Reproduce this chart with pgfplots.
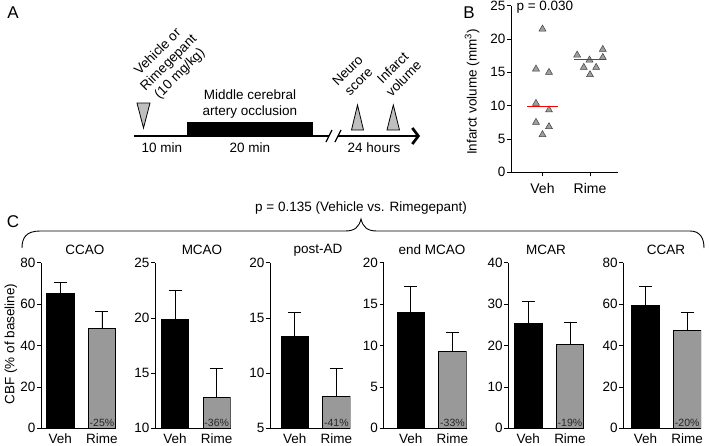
\documentclass[border=0pt]{standalone}
\usepackage{fontspec}
\setmainfont{Liberation Sans}
\usepackage{pgfplots}
\pgfplotsset{compat=1.18}
\usetikzlibrary{arrows.meta}

\definecolor{rime}{gray}{0.6}
\definecolor{tri}{gray}{0.75}
\definecolor{dots}{gray}{0.62}

\tikzset{pct/.style={anchor=south, font=\fontsize{10.5}{12}\selectfont, inner sep=1.5pt, text=black!85}}

\pgfplotsset{
  /pgf/number format/assume math mode=true,
  cbf/.style={
    scale only axis, height=165.6pt, anchor=south west,
    axis lines=left, axis line style={-, line width=0.7pt},
    ybar, bar width=27.5pt,
    xmax=1.336, xtick={0,1}, xticklabels={Veh,Rime},
    xtick style={draw=none},
    ytick style={line width=0.7pt, black},
    tick align=outside, major tick length=4pt,
    yticklabel style={font=\fontsize{13.5}{15}\selectfont, inner sep=1.5pt},
    xticklabel style={font=\fontsize{13.5}{14}\selectfont, inner sep=0pt, yshift=-1pt},
  },
  eb/.style={error bars/.cd, y dir=plus, y explicit,
    error bar style={line width=0.8pt, black},
    error mark options={rotate=90, mark size=6.5pt, line width=0.8pt, black}},
  veh/.style={fill=black, draw=black, line width=0.7pt, bar shift=0pt, eb},
  rim/.style={fill=rime, draw=black, line width=0.7pt, bar shift=0pt, eb},
  bbox/.style={at={(511pt,-172.3pt)}, anchor=south west, scale only axis,
    width=107pt, height=166.6pt, xmin=0.337, xmax=2.59, ymin=0, ymax=25},
}

\begin{document}
\begin{tikzpicture}
\useasboundingbox (0,0) rectangle (709pt,-445pt);

% ---- A: timeline
\begin{axis}[at={(0pt,0pt)}, anchor=north west, scale only axis,
  width=430pt, height=160pt, xmin=0, xmax=430, ymin=0, ymax=160,
  y dir=reverse, hide axis, clip=false]
\node[font=\fontsize{17}{19}\selectfont] at (13,13) {A};
\draw[line width=2.7pt] (134,136) -- (329,136);
\draw[line width=2.7pt, -{Straight Barb[length=6pt,width=16pt]}] (338,136) -- (420,136);
\fill (187,121.5) rectangle (313,137.3);
\draw[line width=1.2pt] (326,142) -- (332,130);
\draw[line width=1.2pt] (335,142) -- (341,130);
\filldraw[fill=tri, draw=black, line width=0.8pt] (137,103) -- (150,103) -- (143.5,128) -- cycle;
\filldraw[fill=tri, draw=black, line width=0.8pt] (351.5,130) -- (363.5,130) -- (357.5,105) -- cycle;
\filldraw[fill=tri, draw=black, line width=0.8pt] (387,130) -- (399.5,130) -- (393.3,105) -- cycle;
\begin{scope}[font=\fontsize{13.5}{15.5}\selectfont]
\node at (162,148) {10 min};
\node at (250,148) {20 min};
\node at (374,148) {24 hours};
\node[align=center] at (250,104) {Middle cerebral\\artery occlusion};
\node[align=center, rotate=45] at (169,63) {Vehicle or\\Rimegepant\\(10 mg/kg)};
\node[align=center, rotate=45] at (353,76) {Neuro\\score};
\node[align=center, rotate=45] at (398,73) {Infarct\\volume};
\end{scope}
\end{axis}

% ---- B: infarct volume
\begin{axis}[bbox,
  axis lines=left, axis line style={-, line width=0.7pt},
  ytick={0,5,...,25}, xtick={1,2}, xticklabels={Veh,Rime},
  tick align=outside, major tick length=4pt,
  tick style={line width=0.7pt, black},
  yticklabel style={font=\fontsize{13.5}{15}\selectfont, inner sep=1.5pt},
  xticklabel style={font=\fontsize{14}{15}\selectfont, inner sep=1pt, yshift=-6pt},
  clip=false]
\addplot[only marks, mark=triangle*, mark size=4pt,
  mark options={fill=dots, draw=black!75, line width=0.5pt}] coordinates {
  (1.0,21.5) (0.863,15.5) (1.137,15.0) (0.863,10.35)
  (1.137,9.35) (0.863,7.5) (1.137,6.85) (1.0,5.65)
  (1.73,17.6) (1.99,16.85) (2.27,17.25) (2.27,18.45)
  (1.87,15.75) (2.13,15.75) (2.0,14.65)};
\end{axis}
% medians, drawn over the triangles
\begin{axis}[bbox, hide axis, clip=false]
\addplot[red, line width=1.4pt] coordinates {(0.67,9.85) (1.33,9.85)};
\addplot[red, line width=1.4pt] coordinates {(1.67,16.95) (2.33,16.95)};
\end{axis}
\node[font=\fontsize{17}{19}\selectfont] at (469pt,-13pt) {B};
\node[rotate=90, font=\fontsize{13.5}{15}\selectfont] at (472pt,-92pt) {Infarct volume (mm\textsuperscript{3})};
\node[anchor=west, font=\fontsize{13.5}{15}\selectfont] at (513pt,-7pt) {p = 0.030};

% ---- C: CBF
\begin{axis}[cbf, at={(41pt,-428.3pt)}, width=75pt, xmin=-0.463,
  ymin=0, ymax=80, ytick={0,20,...,80}]
\addplot[veh] coordinates {(0,65.0) +- (0,5.5)};
\addplot[rim] coordinates {(1,48.3) +- (0,8.0)};
\node[pct] at (axis cs:1,0) {-25\%};
\end{axis}

\begin{axis}[cbf, at={(155pt,-428.3pt)}, width=75.7pt, xmin=-0.48,
  ymin=10, ymax=25, ytick={10,15,20,25}]
\addplot[veh] coordinates {(0,19.84) +- (0,2.66)};
\addplot[rim] coordinates {(1,12.8) +- (0,2.63)};
\node[pct] at (axis cs:1,10) {-36\%};
\end{axis}

\begin{axis}[cbf, at={(270pt,-428.3pt)}, width=80.4pt, xmin=-0.592,
  ymin=5, ymax=20, ytick={5,10,15,20}]
\addplot[veh] coordinates {(0,13.3) +- (0,2.17)};
\addplot[rim] coordinates {(1,7.93) +- (0,2.53)};
\node[pct] at (axis cs:1,5) {-41\%};
\end{axis}

\begin{axis}[cbf, at={(383.5pt,-428.3pt)}, width=83pt, xmin=-0.655,
  ymin=0, ymax=20, ytick={0,5,...,20}]
\addplot[veh] coordinates {(0,13.96) +- (0,3.23)};
\addplot[rim] coordinates {(1,9.34) +- (0,2.29)};
\node[pct] at (axis cs:1,0) {-33\%};
\end{axis}

\begin{axis}[cbf, at={(508.3pt,-428.3pt)}, width=75.7pt, xmin=-0.48,
  ymin=0, ymax=40, ytick={0,10,...,40}]
\addplot[veh] coordinates {(0,25.36) +- (0,5.34)};
\addplot[rim] coordinates {(1,20.3) +- (0,5.2)};
\node[pct] at (axis cs:1,0) {-19\%};
\end{axis}

\begin{axis}[cbf, at={(623.3pt,-428.3pt)}, width=77.9pt, xmin=-0.532,
  ymin=0, ymax=80, ytick={0,20,...,80}]
\addplot[veh] coordinates {(0,59.2) +- (0,9.4)};
\addplot[rim] coordinates {(1,47.3) +- (0,8.9)};
\node[pct] at (axis cs:1,0) {-20\%};
\end{axis}

\begin{scope}[font=\fontsize{13.5}{15}\selectfont]
\node at (85pt,-250pt) {CCAO};
\node at (202pt,-250pt) {MCAO};
\node at (318pt,-250pt) {post-AD};
\node at (432pt,-250pt) {end MCAO};
\node at (546pt,-250pt) {MCAR};
\node at (666pt,-250pt) {CCAR};
\end{scope}
\node[rotate=90, font=\fontsize{13.5}{15}\selectfont] at (11pt,-344pt) {CBF (\% of baseline)};
\node[font=\fontsize{17}{19}\selectfont] at (13pt,-222pt) {C};
\node[font=\fontsize{13.5}{15}\selectfont] at (361pt,-208pt) {p = 0.135 (Vehicle vs. Rimegepant)};
\draw[line width=0.9pt] (22pt,-248pt) .. controls (22pt,-238pt) and (26pt,-231pt) .. (40pt,-231pt)
  -- (345pt,-231pt) .. controls (355pt,-231pt) and (359pt,-227pt) .. (361pt,-219pt)
  .. controls (363pt,-227pt) and (367pt,-231pt) .. (377pt,-231pt)
  -- (690pt,-231pt) .. controls (700pt,-231pt) and (704pt,-238pt) .. (704pt,-248pt);
\end{tikzpicture}
\end{document}
